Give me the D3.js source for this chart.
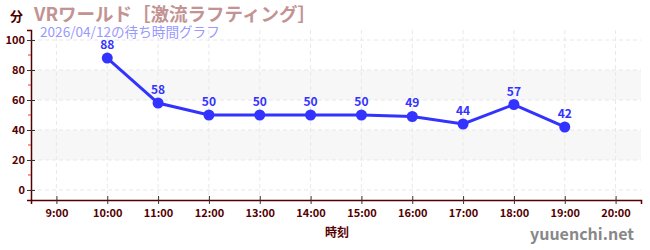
<!DOCTYPE html>
<html>
<head>
<meta charset="utf-8">
<script src="https://cdn.jsdelivr.net/npm/d3@7"></script>
<style>
body { margin:0; background:#fff; }
text { font-family: "Noto Sans CJK JP", "Noto Sans", sans-serif; }
</style>
</head>
<body>
<div id="graph"></div>
<script>
var hours = [10, 11, 12, 13, 14, 15, 16, 17, 18, 19];
var waits = [88, 58, 50, 50, 50, 50, 49, 44, 57, 42];
var xTicks = [9, 10, 11, 12, 13, 14, 15, 16, 17, 18, 19, 20];
var yTicks = [0, 20, 40, 60, 80, 100];
var yMinor = [10, 30, 50, 70, 90];
var bands = [[20, 40], [60, 80]];

var svg = d3.select('#graph').append("svg").attr("width", 650).attr("height", 250);

var x = d3.scaleLinear().domain([8.5, 20.5]).range([31, 641]);
var y = d3.scaleLinear().domain([-6.7, 106.7]).range([200, 30]);

// background bands
svg.selectAll("rect.band").data(bands).enter().append("rect")
    .attr("x", 31).attr("width", 610)
    .attr("y", function(d){ return y(d[1]); })
    .attr("height", function(d){ return y(d[0]) - y(d[1]); })
    .attr("fill", "#f7f7f7");

// grid
svg.selectAll("line.hg").data(yTicks).enter().append("line")
    .attr("x1", 31).attr("x2", 641)
    .attr("y1", function(d){ return y(d); }).attr("y2", function(d){ return y(d); })
    .attr("stroke", "#e8e8e8").attr("stroke-dasharray", "4,3");
svg.selectAll("line.vg").data(xTicks).enter().append("line")
    .attr("y1", 30).attr("y2", 200)
    .attr("x1", function(d){ return x(d); }).attr("x2", function(d){ return x(d); })
    .attr("stroke", "#e8e8e8").attr("stroke-dasharray", "4,3");

// axes
var xAxis = d3.axisBottom(x).tickValues(xTicks).tickSize(4).tickFormat(function(d){ return d + ":00"; });
var gx = svg.append("g").attr("transform", "translate(0,200)").call(xAxis);
gx.select(".domain").attr("stroke", "#550000").attr("stroke-width", 1.5);
gx.selectAll(".tick line").attr("stroke", "#333").attr("y1", -4);
gx.selectAll("text").attr("fill", "#550000").attr("font-size", 11).attr("font-weight", "bold")
    .attr("font-family", "'Noto Sans', sans-serif").attr("dy", "0.9em");

var yAxis = d3.axisLeft(y).tickValues(yTicks).tickSize(4);
var gy = svg.append("g").attr("transform", "translate(31,0)").call(yAxis);
gy.select(".domain").attr("stroke", "#550000").attr("stroke-width", 1.5);
gy.selectAll(".tick line").attr("stroke", "#333").attr("x2", 4).attr("x1", -4);
gy.selectAll("text").attr("fill", "#550000").attr("font-size", 11).attr("font-weight", "bold")
    .attr("font-family", "'Noto Sans', sans-serif").attr("x", -6);

svg.selectAll("line.minor").data(yMinor).enter().append("line")
    .attr("x1", 28).attr("x2", 31)
    .attr("y1", function(d){ return y(d); }).attr("y2", function(d){ return y(d); })
    .attr("stroke", "#ee3333");

// line + points
var line = d3.line().x(function(d, i){ return x(hours[i]); }).y(function(d){ return y(d); });
svg.append("path").datum(waits).attr("d", line)
    .attr("fill", "none").attr("stroke", "#3333ff").attr("stroke-width", 3);
svg.selectAll("circle").data(waits).enter().append("circle")
    .attr("cx", function(d, i){ return x(hours[i]); })
    .attr("cy", function(d){ return y(d); })
    .attr("r", 5.5).attr("fill", "#3333ff");
svg.selectAll("text.val").data(waits).enter().append("text")
    .attr("x", function(d, i){ return x(hours[i]); })
    .attr("y", function(d){ return y(d) - 9; })
    .attr("text-anchor", "middle").attr("fill", "#3333ff")
    .attr("font-size", 12).attr("font-weight", "bold")
    .attr("font-family", "'Noto Sans', sans-serif")
    .text(function(d){ return d; });

// titles
svg.append("text").attr("x", 10).attr("y", 21).attr("font-size", 13).attr("font-weight", "bold")
    .attr("fill", "#4a0000").text("分");
svg.append("text").attr("x", 34).attr("y", 21).attr("font-size", 18.5).attr("font-weight", "bold")
    .attr("fill", "#c39393").text("VRワールド［激流ラフティング］");
svg.append("text").attr("x", 40).attr("y", 37).attr("font-size", 13.6)
    .attr("fill", "#9999ff").text("2026/04/12の待ち時間グラフ");
svg.append("text").attr("x", 337).attr("y", 237).attr("text-anchor", "middle")
    .attr("font-size", 12).attr("font-weight", "bold").attr("fill", "#550000").text("時刻");
svg.append("text").attr("x", 634).attr("y", 240).attr("text-anchor", "end")
    .attr("font-size", 16).attr("font-weight", "bold").attr("fill", "#888")
    .attr("font-family", "'Noto Sans', sans-serif").text("yuuenchi.net");
</script>
</body>
</html>
